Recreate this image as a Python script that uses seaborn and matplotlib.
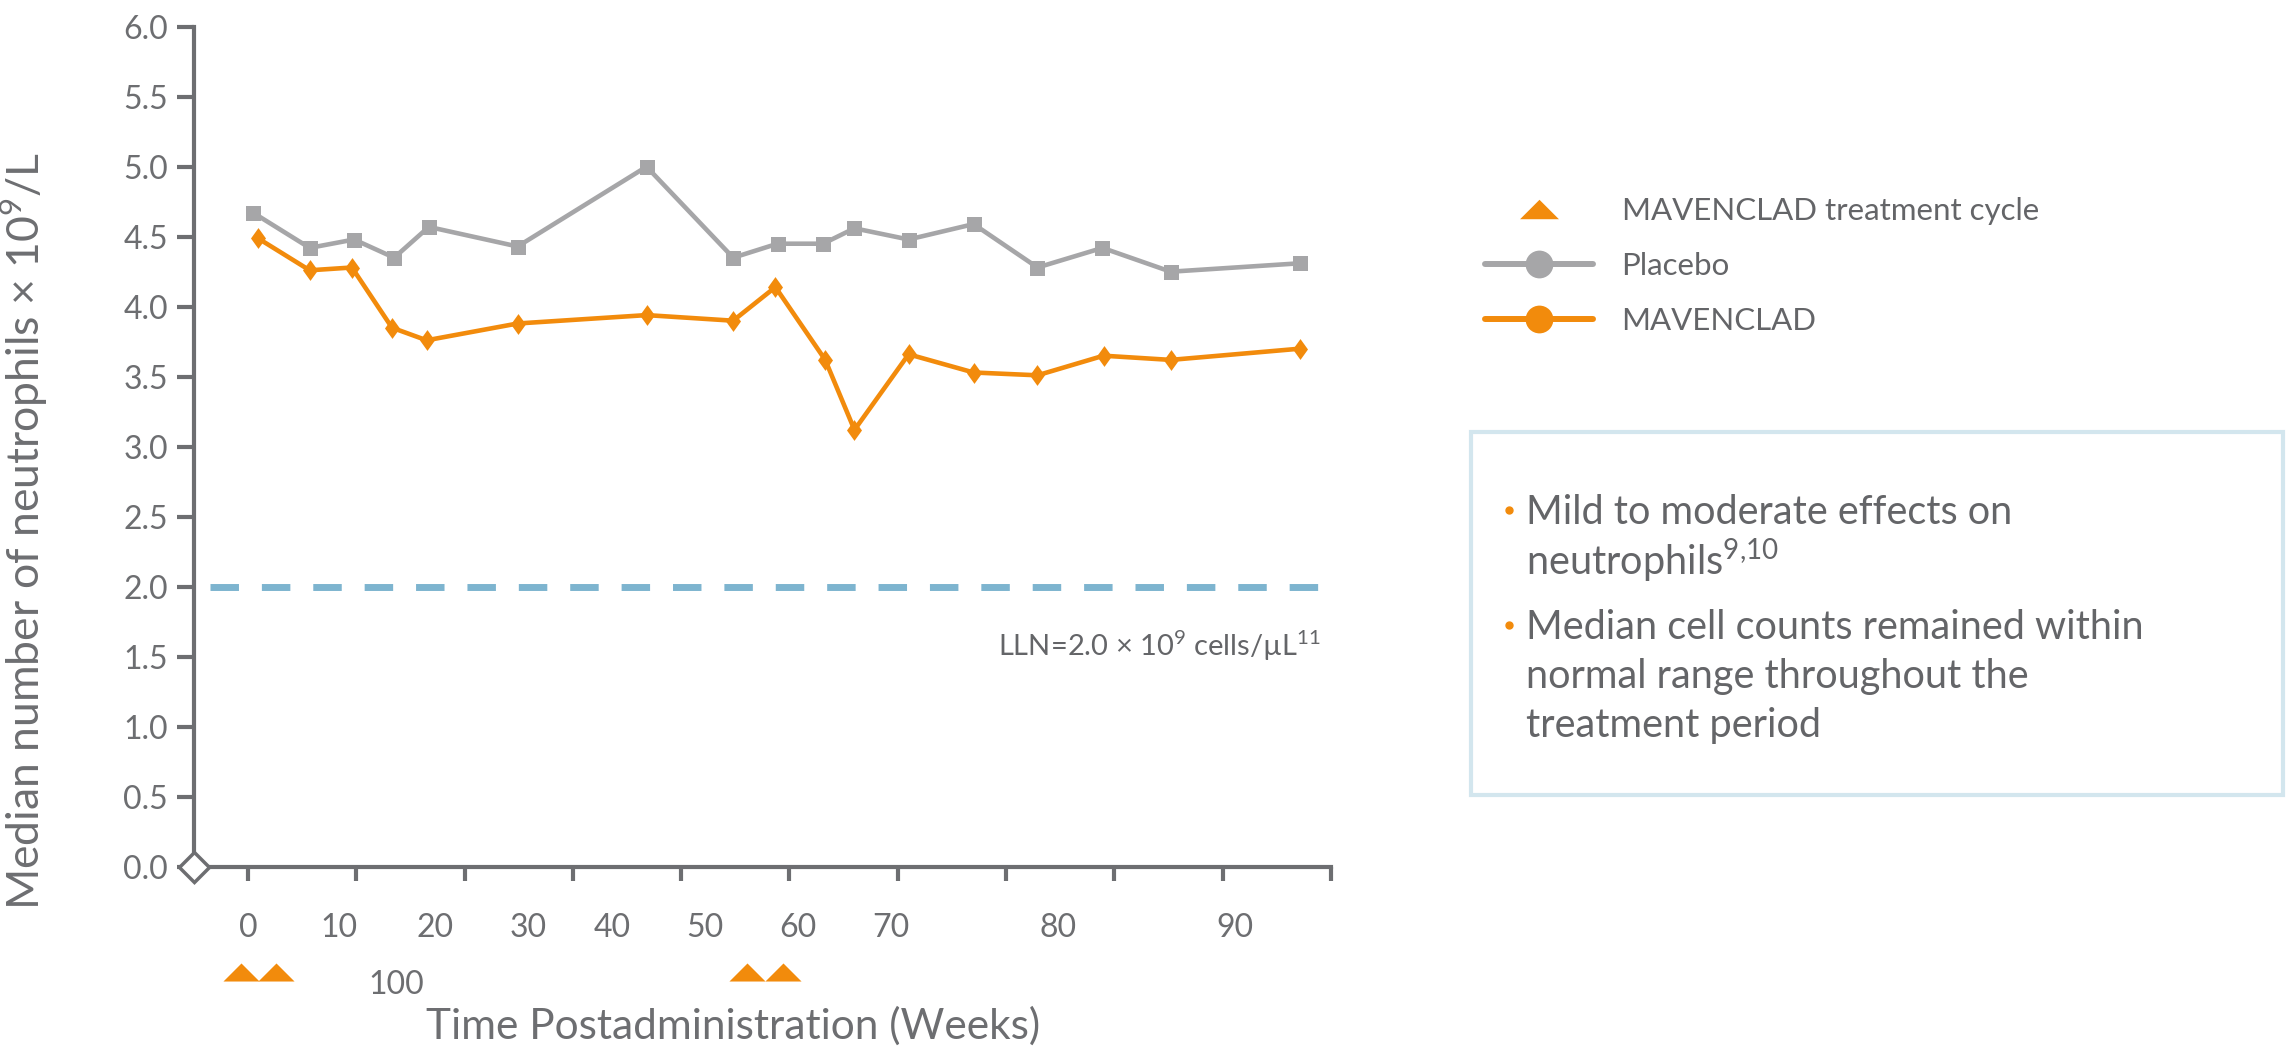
import numpy as np
import seaborn as sns
import matplotlib.pyplot as plt
from matplotlib.lines import Line2D
from matplotlib.patches import Rectangle
from matplotlib.transforms import blended_transform_factory

# values
placebo_weeks = [0.5, 5.7, 9.8, 13.5, 16.7, 24.9, 36.8, 44.8, 48.9, 53.1,
                 56.0, 61.0, 67.0, 72.9, 78.9, 85.2, 97.1]
placebo_values = [4.67, 4.42, 4.48, 4.35, 4.57, 4.43, 5.00, 4.35, 4.45, 4.45,
                  4.56, 4.48, 4.59, 4.28, 4.42, 4.25, 4.31]
mavenclad_weeks = [0.9, 5.7, 9.6, 13.3, 16.5, 24.9, 36.8, 44.8, 48.7, 53.3,
                   56.0, 61.0, 67.0, 72.9, 79.0, 85.2, 97.1]
mavenclad_values = [4.49, 4.26, 4.28, 3.85, 3.76, 3.88, 3.94, 3.90, 4.14, 3.62,
                    3.12, 3.66, 3.53, 3.51, 3.65, 3.62, 3.70]
cycle_weeks = [-0.6, 2.6, 46.1, 49.4]
lln_value = 2.0

y_ticks = [0.0, 0.5, 1.0, 1.5, 2.0, 2.5, 3.0, 3.5, 4.0, 4.5, 5.0, 5.5, 6.0]
x_ticks = [0, 10, 20, 30, 40, 50, 60, 70, 80, 90, 100]
x_tick_labels = ["0", "10", "20", "30", "40", "50", "60", "70", "80", "90", "100"]
x_label_pos = [0, 8.4, 17.3, 25.9, 33.6, 42.2, 50.8, 59.4, 74.8, 91.1, 13.7]
x_label_row = [0, 0, 0, 0, 0, 0, 0, 0, 0, 0, 1]

legend_labels = ["MAVENCLAD treatment cycle", "Placebo", "MAVENCLAD"]
bullet_lines = [
    ["Mild to moderate effects on", "neutrophils$^{\\mathregular{9{,}10}}$"],
    ["Median cell counts remained within", "normal range throughout the",
     "treatment period"],
]

GRAY = "#a6a6a8"
ORANGE = "#f28b0c"
AXIS = "#6d6e71"
TEXT = "#646568"
LLN_BLUE = "#7db4cf"
BOX = "#d3e6ee"

sns.set_style("white")
plt.rcParams["font.family"] = ["Lato", "DejaVu Sans"]

W, H = 2286, 1047
fig = plt.figure(figsize=(W / 100, H / 100), dpi=100)
ax = fig.add_axes([193.8 / W, 1 - 866.7 / H, (1331 - 193.8) / W, 840 / H])

diamond = [(0, 1), (0.72, 0), (0, -1), (-0.72, 0)]
sns.lineplot(x=placebo_weeks, y=placebo_values, color=GRAY, linewidth=3.3,
             marker="s", markersize=10.8, markeredgewidth=0, ax=ax, zorder=3)
sns.lineplot(x=mavenclad_weeks, y=mavenclad_values, color=ORANGE, linewidth=3.3,
             marker=diamond, markersize=15, markeredgewidth=0, ax=ax, zorder=4)

ax.hlines(lln_value, -3.5, 100.4, colors=LLN_BLUE, linewidth=5,
          linestyles=[(0, (4.1, 3.3))], clip_on=False, zorder=2)
ax.text(99.1, 1.58, "LLN=2.0 × 10$^{\\mathregular{9}}$ cells/µL$^{\\mathregular{11}}$",
        ha="right", va="center", fontsize=21, color=TEXT)

ax.set_xlim(-5, 100)
ax.set_ylim(0, 6)
ax.set_yticks(y_ticks)
ax.set_yticklabels([f"{v:.1f}" for v in y_ticks])
ax.set_xticks(x_ticks)
ax.set_xticklabels([])
ax.tick_params(axis="y", left=True, direction="out", length=12, width=3,
               color=AXIS, labelsize=23, labelcolor=AXIS, pad=6.5)
ax.tick_params(axis="x", bottom=True, direction="out", length=10, width=3,
               color=AXIS)
sns.despine(ax=ax)
for side in ["left", "bottom"]:
    ax.spines[side].set_color(AXIS)
    ax.spines[side].set_linewidth(3)

# x tick labels sit off their ticks in the source, two rows
xt = blended_transform_factory(ax.transData, ax.transAxes)
row_y = [-0.0835, -0.1519]
for pos, lab, row in zip(x_label_pos, x_tick_labels, x_label_row):
    ax.text(pos, row_y[row], lab, transform=xt, ha="center", va="baseline",
            fontsize=23, color=AXIS)

tri = [(-1, -0.5), (1, -0.5), (0, 0.5)]
ax.plot(cycle_weeks, [-0.125] * len(cycle_weeks), transform=xt, ls="none",
        marker=tri, markersize=26, color=ORANGE, markeredgewidth=0, clip_on=False)

ax.plot(-5, 0, marker="D", markersize=14.8, markerfacecolor="white",
        markeredgecolor=AXIS, markeredgewidth=2.5, clip_on=False, zorder=6)

ax.set_ylabel("Median number of neutrophils × 10$^{\\mathregular{9}}$/L",
              fontsize=32, color=AXIS)
ax.yaxis.set_label_coords(-0.1265, 0.400)
ax.set_xlabel("Time Postadministration (Weeks)", fontsize=30.5, color=AXIS)
ax.xaxis.set_label_coords(0.4741, -0.1658)

handles = [
    Line2D([], [], ls="none", marker=tri, markersize=28, color=ORANGE, markeredgewidth=0),
    Line2D([], [], color=GRAY, linewidth=4.3, marker="o", markersize=20, markeredgewidth=0),
    Line2D([], [], color=ORANGE, linewidth=4.3, marker="o", markersize=20, markeredgewidth=0),
]
fig.legend(handles, legend_labels, loc="upper left",
           bbox_to_anchor=(1485 / W, 1 - 197 / H), frameon=False, fontsize=22.5,
           handlelength=3.45, handletextpad=0.92, labelspacing=0.86,
           borderpad=0, borderaxespad=0, labelcolor=TEXT)

fig.add_artist(Rectangle((1471 / W, 1 - 795 / H), (2283 - 1471) / W, 363 / H,
                         transform=fig.transFigure, fill=False, ec=BOX, lw=3))
baselines = [[524, 575], [639, 688, 737]]
for lines, bls in zip(bullet_lines, baselines):
    fig.add_artist(Line2D([1509 / W], [1 - (bls[0] - 14) / H], marker="o",
                          markersize=5, color=ORANGE, transform=fig.transFigure))
    for line, bl in zip(lines, bls):
        fig.text(1526 / W, 1 - bl / H, line, ha="left", va="baseline",
                 fontsize=28.5, color=TEXT)

fig.savefig("out.png", dpi=100)
